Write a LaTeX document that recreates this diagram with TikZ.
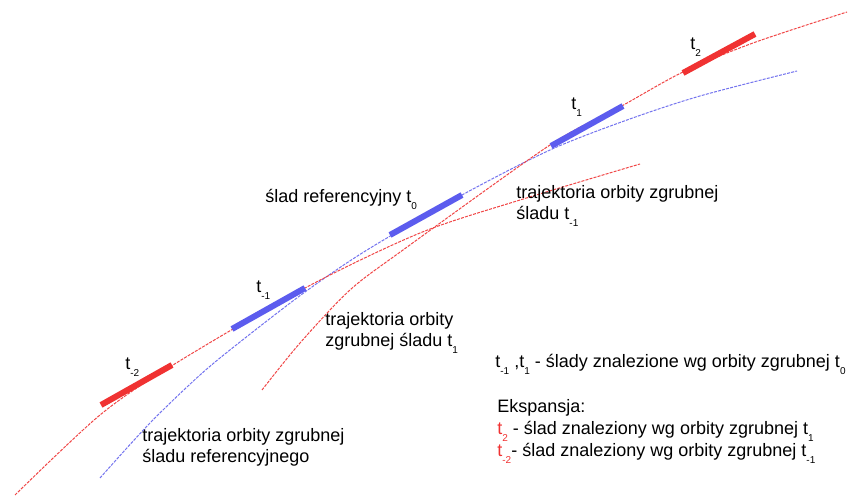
\documentclass[tikz,border=0pt]{standalone}
\usepackage{fontspec}
\setmainfont{Liberation Sans}
\usetikzlibrary{positioning}
\definecolor{trackred}{RGB}{240,50,50}
\definecolor{trackblue}{RGB}{92,92,238}
\definecolor{orbitred}{RGB}{240,70,70}
\definecolor{orbitblue}{RGB}{115,115,238}
\newcommand{\ix}[1]{\raisebox{-0.7ex}{\fontsize{5}{6}\selectfont #1}}

\begin{document}
\begin{tikzpicture}[
    x=0.5pt, y=-0.5pt,
    every node/.style={font=\fontsize{9}{10.5}\selectfont, inner sep=0pt},
    orbit/.style={line width=0.5pt, dash pattern=on 1.5pt off 0.6pt},
    track/.style={line width=3pt},
    lbl/.style={anchor=base west, align=left}
]
\useasboundingbox (0,0) rectangle (848,496);

% orbits
\draw[orbit, orbitblue] plot[smooth] coordinates {(100,478) (150,423) (200,375) (240,342) (305,292) (367,250) (462,195) (550,150) (627,120) (700,96) (797,71)};
\draw[orbit, orbitred] plot[smooth] coordinates {(15,495) (100,415) (173,365) (305,288) (420,233) (520,200) (640,164)};
\draw[orbit, orbitred] plot[smooth] coordinates {(262,390) (300,343) (350,290) (403,250) (550,145) (620,107) (683,72) (753,43) (847,12)};

% tracks
\draw[track, trackred] (101,405) -- (172,365);
\draw[track, trackblue] (232,329) -- (305,288);
\draw[track, trackblue] (390,235) -- (462,195);
\draw[track, trackblue] (551,146) -- (623,106);
\draw[track, trackred] (683,73) -- (755,34);

\node[lbl] (tm2) at (125,370) {t\ix{-2}};
\node[lbl] (tm1) at (256,293) {t\ix{-1}};
\node[lbl] (t0) at (265,203) {ślad referencyjny t\ix{0}};
\node[lbl] (t1) at (571,110) {t\ix{1}};
\node[lbl] (t2) at (690,50) {t\ix{2}};

% orbit descriptions
\node[lbl] (otm1) at (516,220) {trajektoria orbity zgrubnej\\śladu t\ix{-1}};
\node[lbl] (ot1) at (325,347) {trajektoria orbity\\zgrubnej śladu t\ix{1}};
\node[lbl] (oref) at (142,463) {trajektoria orbity zgrubnej\\śladu referencyjnego};

% legend
\node[lbl] (found) at (495,368) {t\ix{-1} ,t\ix{1} - ślady znalezione wg orbity zgrubnej t\ix{0}};
\node[lbl] (eksp) at (497,413) {Ekspansja:};
\node[lbl] (exp2) at (497,435) {\textcolor{trackred}{t\ix{2}} - ślad znaleziony wg orbity zgrubnej t\ix{1}};
\node[lbl] (expm2) at (497,457) {\textcolor{trackred}{t\ix{-2}}- ślad znaleziony wg orbity zgrubnej t\ix{-1}};

\end{tikzpicture}
\end{document}
